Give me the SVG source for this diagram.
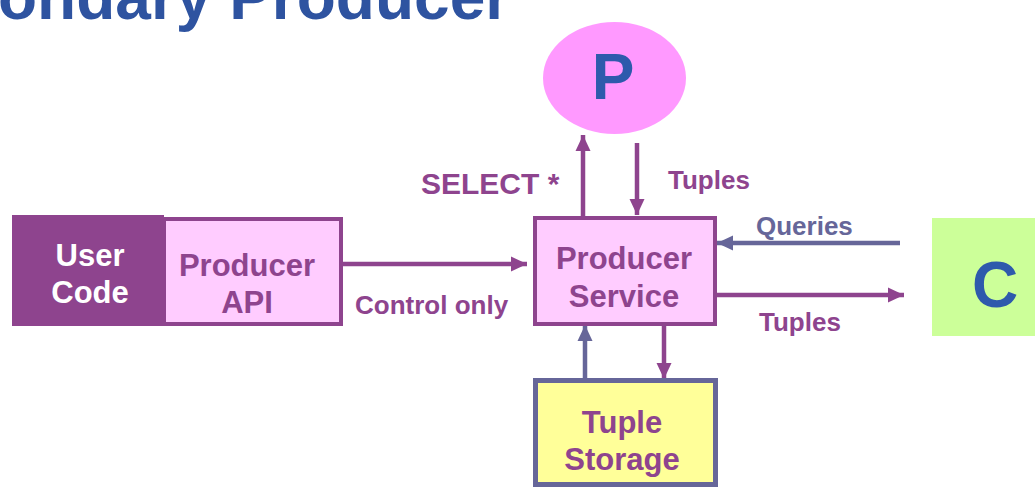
<svg xmlns="http://www.w3.org/2000/svg" width="1035" height="487" viewBox="0 0 1035 487">
<defs>
<style>
text{font-family:"Liberation Sans",Arial,sans-serif;font-weight:bold}
.big{font-size:31px}
.lbl{font-size:26px;fill:#8E448E}
.pur{fill:#8E448E}
.line{stroke-width:4.5;fill:none}
.lp{stroke:#8E448E}
.ls{stroke:#666699}
</style>
<marker id="ap" viewBox="0 0 16 16" refX="16" refY="8" markerWidth="16" markerHeight="16" markerUnits="userSpaceOnUse" orient="auto">
<path d="M0,0.5 L16,8 L0,15.5 Z" fill="#8E448E"/>
</marker>
<marker id="as" viewBox="0 0 16 16" refX="16" refY="8" markerWidth="16" markerHeight="16" markerUnits="userSpaceOnUse" orient="auto">
<path d="M0,0.5 L16,8 L0,15.5 Z" fill="#666699"/>
</marker>
</defs>
<rect width="1035" height="487" fill="#FFFFFF"/>
<text id="title" x="-2" y="19" font-size="64" fill="#2E53A0">ondary Producer</text>

<g id="connectors">
<line class="line lp" x1="343" y1="264" x2="527" y2="264" marker-end="url(#ap)"/>
<line class="line lp" x1="583" y1="216" x2="583" y2="135" marker-end="url(#ap)"/>
<line class="line lp" x1="637" y1="143" x2="637" y2="215" marker-end="url(#ap)"/>
<line class="line ls" x1="900" y1="243" x2="717" y2="243" marker-end="url(#as)"/>
<line class="line lp" x1="717" y1="295" x2="904" y2="295" marker-end="url(#ap)"/>
<line class="line ls" x1="585" y1="378" x2="585" y2="325" marker-end="url(#as)"/>
<line class="line lp" x1="664" y1="326" x2="664" y2="379" marker-end="url(#ap)"/>
<text class="lbl" x="355" y="314">Control only</text>
<text x="421" y="194" font-size="30" class="pur">SELECT *</text>
<text class="lbl" x="668" y="189">Tuples</text>
<text x="756" y="235" font-size="26" fill="#666699">Queries</text>
<text class="lbl" x="759" y="331">Tuples</text>
</g>

<g id="user-code">
<rect x="12" y="215" width="152" height="111" fill="#8E448E"/>
<text class="big" x="90" y="266" text-anchor="middle" fill="#FFFFFF">User</text>
<text class="big" x="90" y="303" text-anchor="middle" fill="#FFFFFF">Code</text>
</g>

<g id="producer-api">
<rect x="164" y="219" width="177" height="105" fill="#FFCCFF" stroke="#8E448E" stroke-width="4"/>
<text class="big pur" x="247" y="276" text-anchor="middle">Producer</text>
<text class="big pur" x="247" y="313" text-anchor="middle">API</text>
</g>

<g id="producer-service">
<rect x="535" y="218" width="180" height="106" fill="#FFCCFF" stroke="#8E448E" stroke-width="4"/>
<text class="big pur" x="624" y="269" text-anchor="middle">Producer</text>
<text class="big pur" x="624" y="307" text-anchor="middle">Service</text>
</g>

<g id="p">
<ellipse cx="614.5" cy="78" rx="71.5" ry="56" fill="#FF99FF"/>
<text x="613" y="99" font-size="64" text-anchor="middle" fill="#2E5AAC">P</text>
</g>

<g id="c">
<rect x="932" y="218" width="110" height="118" fill="#CCFF99"/>
<text x="995" y="307" font-size="64" text-anchor="middle" fill="#2E5AAC">C</text>
</g>

<g id="tuple-storage">
<rect x="535.5" y="380.5" width="180" height="104" fill="#FFFF99" stroke="#666699" stroke-width="5"/>
<text class="big pur" x="622" y="433" text-anchor="middle">Tuple</text>
<text class="big pur" x="622" y="470" text-anchor="middle">Storage</text>
</g>
</svg>
